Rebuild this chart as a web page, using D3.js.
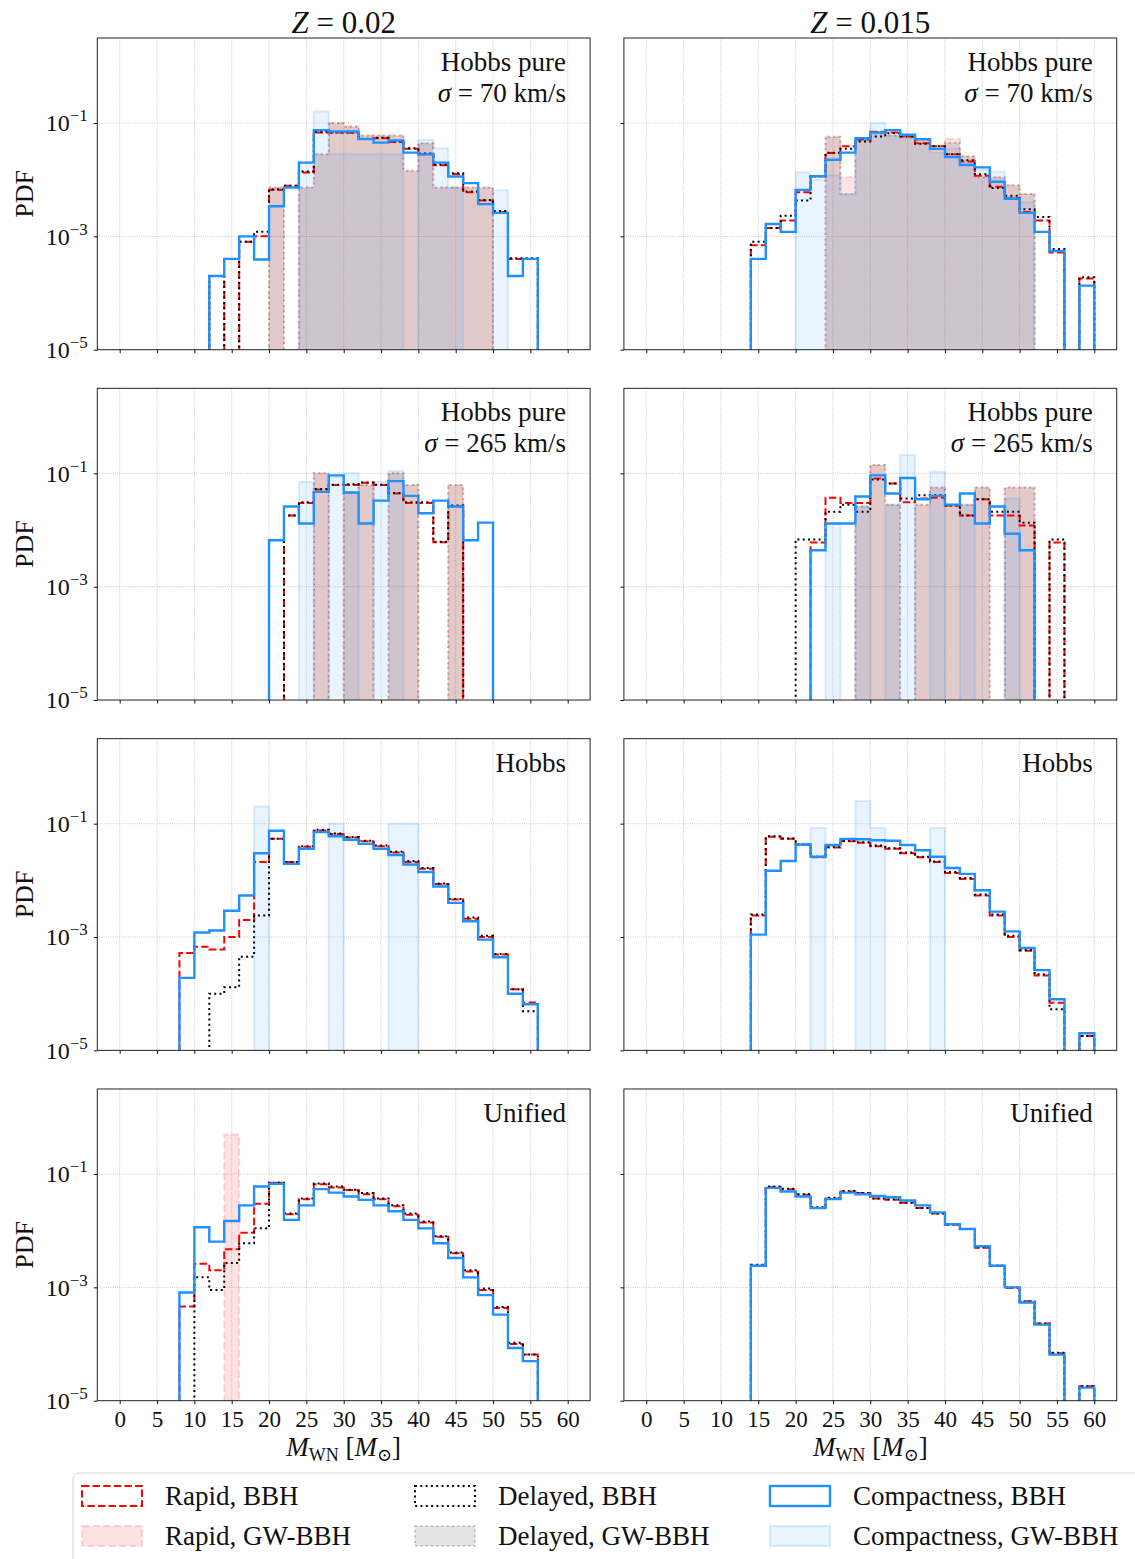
<!DOCTYPE html>
<html>
<head>
<meta charset="utf-8">
<script src="https://cdn.jsdelivr.net/npm/d3@7"></script>
<style>
  body { margin: 0; background: #fff; }
  svg text { font-family: 'Liberation Serif', 'DejaVu Serif', serif; fill: #111; }
</style>
</head>
<body>
<svg id="chart" width="1135" height="1559"></svg>
<script>
// Left edges of the 2 Msun wide bins (MWN)
const binStarts = [8, 10, 12, 14, 16, 18, 20, 22, 24, 26, 28, 30, 32, 34, 36, 38, 40, 42, 44, 46, 48, 50, 52, 54, 56, 58];
const binWidth = 2;

const xTicks = [0, 5, 10, 15, 20, 25, 30, 35, 40, 45, 50, 55, 60];
const yTicks = [1e-5, 1e-3, 1e-1];
const metallicities = ['0.02', '0.015'];
const modelNames = ['Hobbs pure', 'Hobbs pure', 'Hobbs', 'Unified'];
const sigmaLabels = ['70 km/s', '265 km/s', null, null];

// ---- Z = 0.02, Hobbs pure, sigma = 70
const rapidA    = [0, 0, 2e-4, 0, 8e-4, 1e-3, 6.6e-3, 7.8e-3, 0.0134, 0.068, 0.068, 0.067, 0.052, 0.054, 0.046, 0.035, 0.028, 0.018, 0.0126, 0.006, 0.0043, 0.0027, 4e-4, 4e-4, 0, 0];
const delayedA  = [0, 0, 2e-4, 0, 8e-4, 1.2e-3, 6.8e-3, 7.8e-3, 0.014, 0.07, 0.068, 0.068, 0.053, 0.055, 0.047, 0.036, 0.029, 0.0185, 0.013, 0.0062, 0.0044, 0.0028, 4.1e-4, 4.1e-4, 0, 0];
const compactA  = [0, 0, 2e-4, 4e-4, 1e-3, 3.9e-4, 3.4e-3, 7.3e-3, 0.020, 0.075, 0.071, 0.071, 0.052, 0.045, 0.049, 0.030, 0.028, 0.020, 0.0114, 0.0087, 0.0037, 0.0026, 2e-4, 4e-4, 0, 0];
const rapidGWA   = [0, 0, 0, 0, 0, 0, 0.0073, 0, 0.0073, 0.028, 0.1, 0.087, 0.06, 0.06, 0.06, 0.0144, 0.044, 0.0073, 0.0073, 0.0073, 0.0073, 0, 0, 0, 0, 0];
const delayedGWA = [0, 0, 0, 0, 0, 0, 0.0073, 0, 0.0073, 0.028, 0.1, 0.087, 0.06, 0.06, 0.06, 0.0144, 0.044, 0.0073, 0.0073, 0.0073, 0.0073, 0, 0, 0, 0, 0];
const compactGWA = [0, 0, 0, 0, 0, 0, 0, 0, 0.02, 0.16, 0.028, 0.028, 0.028, 0.028, 0.028, 0, 0.05, 0.036, 0.0073, 0, 0, 0.0065, 0, 0, 0, 0];

// ---- Z = 0.015, Hobbs pure, sigma = 70
const rapidB    = [0, 0, 0, 7e-4, 1.4e-3, 1.9e-3, 6e-3, 0.0115, 0.0295, 0.039, 0.051, 0.070, 0.068, 0.058, 0.044, 0.039, 0.028, 0.021, 0.0117, 0.0075, 0.0047, 0.0027, 1.9e-3, 5.2e-4, 0, 1.8e-4];
const delayedB  = [0, 0, 0, 8e-4, 1.4e-3, 2.3e-3, 4.3e-3, 0.0115, 0.03, 0.035, 0.047, 0.058, 0.066, 0.058, 0.043, 0.039, 0.028, 0.022, 0.0125, 0.0071, 0.0052, 0.003, 2.2e-3, 6e-4, 0, 1.9e-4];
const compactB  = [0, 0, 0, 4e-4, 1.65e-3, 1.2e-3, 6.6e-3, 0.0115, 0.0225, 0.030, 0.054, 0.068, 0.075, 0.062, 0.052, 0.035, 0.025, 0.0182, 0.0165, 0.0092, 0.0046, 0.0026, 1.2e-3, 5.5e-4, 0, 1.35e-4];
const rapidGWB   = [0, 0, 0, 0, 0, 0, 0, 0, 0.057, 0.011, 0.05, 0.065, 0.06, 0.06, 0.05, 0.035, 0.052, 0.026, 0.011, 0.011, 0.008, 0.0056, 0, 0, 0, 0];
const delayedGWB = [0, 0, 0, 0, 0, 0, 0, 0, 0.057, 0.0056, 0.05, 0.065, 0.06, 0.06, 0.05, 0.035, 0.045, 0.026, 0.011, 0.011, 0.008, 0.0056, 0, 0, 0, 0];
const compactGWB = [0, 0, 0, 0, 0, 0, 0.0135, 0.01, 0.012, 0.0056, 0.05, 0.1, 0.06, 0.055, 0.045, 0.03, 0.035, 0.02, 0.015, 0.0138, 0.005, 0.004, 0, 0, 0, 0];

// ---- Z = 0.02, Hobbs pure, sigma = 265
const rapidC    = [0, 0, 0, 0, 0, 0, 0, 0.018, 0.030, 0.052, 0.062, 0.062, 0.068, 0.062, 0.044, 0.030, 0.030, 6.1e-3, 0.026, 0, 0, 0, 0, 0, 0, 0];
const delayedC  = [0, 0, 0, 0, 0, 0, 0, 0.018, 0.031, 0.053, 0.063, 0.064, 0.069, 0.063, 0.045, 0.031, 0.031, 6.2e-3, 0.027, 0, 0, 0, 0, 0, 0, 0];
const compactC  = [0, 0, 0, 0, 0, 0, 6.6e-3, 0.026, 0.013, 0.047, 0.092, 0.046, 0.013, 0.033, 0.073, 0.04, 0.0197, 0.033, 0.026, 6.6e-3, 0.0135, 0, 0, 0, 0, 0];
const rapidGWC   = [0, 0, 0, 0, 0, 0, 0, 0, 0, 0.1, 0, 0.046, 0.062, 0, 0.1, 0.062, 0, 0, 0.062, 0, 0, 0, 0, 0, 0, 0];
const delayedGWC = [0, 0, 0, 0, 0, 0, 0, 0, 0, 0.1, 0, 0.046, 0.062, 0, 0.1, 0.062, 0, 0, 0.062, 0, 0, 0, 0, 0, 0, 0];
const compactGWC = [0, 0, 0, 0, 0, 0, 0, 0, 0.07, 0, 0.085, 0.1, 0, 0.07, 0.11, 0, 0, 0, 0, 0, 0, 0, 0, 0, 0, 0];

// ---- Z = 0.015, Hobbs pure, sigma = 265
const rapidD    = [0, 0, 0, 0, 0, 0, 0, 6e-3, 0.037, 0.030, 0.030, 0.081, 0.066, 0.031, 0.036, 0.037, 0.027, 0.018, 0.035, 0.018, 0.018, 0.012, 0, 6e-3, 0, 0];
const delayedD  = [0, 0, 0, 0, 0, 0, 6.8e-3, 6.8e-3, 0.021, 0.028, 0.021, 0.078, 0.066, 0.036, 0.041, 0.041, 0.027, 0.018, 0.035, 0.021, 0.021, 0.0135, 0, 6.8e-3, 0, 0];
const compactD  = [0, 0, 0, 0, 0, 0, 0, 4.4e-3, 0.013, 0.013, 0.039, 0.092, 0.044, 0.083, 0.035, 0.040, 0.028, 0.044, 0.013, 0.026, 8.6e-3, 4.4e-3, 0, 0, 0, 0];
const rapidGWD   = [0, 0, 0, 0, 0, 0, 0, 0, 0, 0, 0.026, 0.14, 0.028, 0, 0.028, 0.056, 0.028, 0.028, 0.056, 0, 0.056, 0.056, 0, 0, 0, 0];
const delayedGWD = [0, 0, 0, 0, 0, 0, 0, 0, 0, 0, 0.026, 0.14, 0.028, 0, 0.028, 0.056, 0.028, 0.028, 0.056, 0, 0.056, 0.056, 0, 0, 0, 0];
const compactGWD = [0, 0, 0, 0, 0, 0, 0, 0, 0.013, 0, 0.026, 0, 0.028, 0.21, 0, 0.107, 0, 0.028, 0, 0, 0.036, 0, 0, 0, 0, 0];

// ---- Z = 0.02, Hobbs
const rapidE    = [5.2e-4, 6.7e-4, 6e-4, 1e-3, 2e-3, 0.021, 0.054, 0.021, 0.039, 0.076, 0.066, 0.057, 0.049, 0.040, 0.031, 0.021, 0.016, 8.6e-3, 4.6e-3, 2.1e-3, 1e-3, 4.9e-4, 1.2e-4, 7e-5, 0, 0];
const delayedE  = [0, 0, 1e-4, 1.3e-4, 4.5e-4, 2.4e-3, 0.054, 0.021, 0.040, 0.078, 0.067, 0.058, 0.050, 0.041, 0.032, 0.022, 0.0165, 8.8e-3, 4.7e-3, 2.2e-3, 1.05e-3, 5e-4, 1.2e-4, 4.9e-5, 0, 0];
const compactE  = [1.9e-4, 1.2e-3, 1.3e-3, 2.9e-3, 5.4e-3, 0.030, 0.075, 0.0195, 0.036, 0.071, 0.060, 0.052, 0.044, 0.036, 0.028, 0.019, 0.014, 7.8e-3, 4e-3, 1.9e-3, 9e-4, 4.4e-4, 1e-4, 6.5e-5, 0, 0];
const compactGWE = [0, 0, 0, 0, 0, 0.2, 0, 0, 0, 0, 0.1, 0, 0, 0, 0.1, 0.1, 0, 0, 0, 0, 0, 0, 0, 0, 0, 0];

// ---- Z = 0.015, Hobbs
const rapidF    = [0, 0, 0, 2.4e-3, 0.059, 0.054, 0.043, 0.0255, 0.038, 0.049, 0.046, 0.040, 0.036, 0.030, 0.0255, 0.021, 0.0135, 0.0106, 5.4e-3, 2.4e-3, 1e-3, 5.7e-4, 2.1e-4, 6.9e-5, 0, 1.8e-5];
const delayedF  = [0, 0, 0, 2.5e-3, 0.06, 0.055, 0.043, 0.026, 0.039, 0.05, 0.047, 0.041, 0.037, 0.031, 0.026, 0.0215, 0.014, 0.011, 5.6e-3, 2.5e-3, 1.05e-3, 5.9e-4, 2.2e-4, 5.3e-5, 0, 1.8e-5];
const compactF  = [0, 0, 0, 1.1e-3, 0.0148, 0.022, 0.043, 0.026, 0.042, 0.054, 0.053, 0.051, 0.050, 0.042, 0.034, 0.026, 0.0165, 0.013, 6.7e-3, 2.8e-3, 1.26e-3, 6.4e-4, 2.6e-4, 8e-5, 0, 2e-5];
const compactGWF = [0, 0, 0, 0, 0, 0, 0, 0.084, 0, 0, 0.25, 0.084, 0, 0, 0, 0.084, 0, 0, 0, 0, 0, 0, 0, 0, 0, 0];

// ---- Z = 0.02, Unified
const rapidG    = [4.6e-4, 2.6e-3, 2e-3, 4.7e-3, 9.2e-3, 0.030, 0.070, 0.0195, 0.036, 0.066, 0.058, 0.052, 0.044, 0.036, 0.027, 0.019, 0.014, 7.8e-3, 4e-3, 1.9e-3, 9e-4, 4.3e-4, 1e-4, 6.5e-5, 0, 0];
const delayedG  = [0, 1.5e-3, 9e-4, 2.7e-3, 6e-3, 0.011, 0.070, 0.020, 0.037, 0.068, 0.06, 0.053, 0.046, 0.037, 0.028, 0.02, 0.0145, 8e-3, 4.1e-3, 2e-3, 9.5e-4, 4.5e-4, 1.05e-4, 6.5e-5, 0, 0];
const compactG  = [8.1e-4, 0.0115, 6.4e-3, 0.0148, 0.028, 0.060, 0.067, 0.0155, 0.028, 0.054, 0.047, 0.040, 0.035, 0.028, 0.022, 0.0155, 0.011, 6e-3, 3.3e-3, 1.5e-3, 7.3e-4, 3.3e-4, 8.5e-5, 5e-5, 0, 0];
const rapidGWG  = [0, 0, 0, 0.5, 0, 0, 0, 0, 0, 0, 0, 0, 0, 0, 0, 0, 0, 0, 0, 0, 0, 0, 0, 0, 0, 0];

// ---- Z = 0.015, Unified
const rapidH    = [0, 0, 0, 2.4e-3, 0.059, 0.054, 0.043, 0.0255, 0.037, 0.049, 0.046, 0.037, 0.035, 0.031, 0.025, 0.020, 0.0127, 0.0107, 5e-3, 2.4e-3, 9.7e-4, 5.7e-4, 2.3e-4, 6.9e-5, 0, 1.8e-5];
const delayedH  = [0, 0, 0, 2.5e-3, 0.06, 0.055, 0.044, 0.026, 0.038, 0.05, 0.046, 0.037, 0.036, 0.031, 0.025, 0.02, 0.0128, 0.0107, 5.1e-3, 2.4e-3, 1e-3, 5.6e-4, 2.3e-4, 7e-5, 0, 1.8e-5];
const compactH  = [0, 0, 0, 2.4e-3, 0.057, 0.049, 0.040, 0.025, 0.036, 0.047, 0.044, 0.041, 0.039, 0.034, 0.028, 0.021, 0.013, 0.0107, 5.3e-3, 2.4e-3, 1e-3, 5.4e-4, 2.2e-4, 6.5e-5, 0, 1.7e-5];

const panels = [
  { row: 0, col: 0, lines: [rapidA, delayedA, compactA], fills: [rapidGWA, delayedGWA, compactGWA] },
  { row: 0, col: 1, lines: [rapidB, delayedB, compactB], fills: [rapidGWB, delayedGWB, compactGWB] },
  { row: 1, col: 0, lines: [rapidC, delayedC, compactC], fills: [rapidGWC, delayedGWC, compactGWC] },
  { row: 1, col: 1, lines: [rapidD, delayedD, compactD], fills: [rapidGWD, delayedGWD, compactGWD] },
  { row: 2, col: 0, lines: [rapidE, delayedE, compactE], fills: [null, null, compactGWE] },
  { row: 2, col: 1, lines: [rapidF, delayedF, compactF], fills: [null, null, compactGWF] },
  { row: 3, col: 0, lines: [rapidG, delayedG, compactG], fills: [rapidGWG, null, null] },
  { row: 3, col: 1, lines: [rapidH, delayedH, compactH], fills: [null, null, null] }
];

// styles: rapid, delayed, compactness
const lineStyles = [
  { stroke: '#ff0000', width: 2, dash: '7.4,3.2' },
  { stroke: '#000000', width: 2, dash: '2,3.3' },
  { stroke: '#1e90ff', width: 2.4, dash: null }
];
const fillStyles = [
  { fill: '#ff0000', fillOp: 0.11, stroke: '#ff0000', strokeOp: 0.15, dash: '7.4,3.2' },
  { fill: '#000000', fillOp: 0.11, stroke: '#000000', strokeOp: 0.2, dash: '2,3.3' },
  { fill: '#1e90ff', fillOp: 0.1, stroke: '#1e90ff', strokeOp: 0.15, dash: null }
];

const svg = d3.select('#chart');
const serif = "'Liberation Serif', 'DejaVu Serif', serif";

const colRange = [[97.3, 590.1], [623.9, 1116.7]];
const rowTop = r => 38 + r * 350.33;
const panelH = 311.7;

// outline of a step histogram, from the baseline back to the baseline
function stepPoints(vals) {
  const idx = vals.map((v, i) => v > 0 ? i : -1).filter(i => i >= 0);
  if (!idx.length) return null;
  const first = idx[0], last = idx[idx.length - 1];
  const pts = [[binStarts[first], 0]];
  for (let i = first; i <= last; i++) {
    pts.push([binStarts[i], vals[i]], [binStarts[i] + binWidth, vals[i]]);
  }
  pts.push([binStarts[last] + binWidth, 0]);
  return pts;
}

const defs = svg.append('defs');

panels.forEach((p, k) => {
  const [x0, x1] = colRange[p.col];
  const top = rowTop(p.row);
  const bottom = top + panelH;

  const x = d3.scaleLinear().domain([-3, 63]).range([x0, x1]);
  const y = d3.scaleLog().domain([1e-5, Math.pow(10, 0.5)]).range([bottom, top]);

  const line = d3.line()
    .x(d => x(d[0]))
    .y(d => d[1] > 0 ? y(d[1]) : bottom + 2);

  defs.append('clipPath').attr('id', 'clip' + k)
    .append('rect').attr('x', x0).attr('y', top).attr('width', x1 - x0).attr('height', panelH);

  const g = svg.append('g');

  // dotted grid
  g.append('g').selectAll('line').data(xTicks).join('line')
    .attr('x1', d => x(d)).attr('x2', d => x(d))
    .attr('y1', top).attr('y2', bottom)
    .attr('stroke', '#b0b0b0').attr('stroke-width', 0.8).attr('stroke-dasharray', '0.8,1.4');
  g.append('g').selectAll('line').data(yTicks.slice(1)).join('line')
    .attr('x1', x0).attr('x2', x1)
    .attr('y1', d => y(d)).attr('y2', d => y(d))
    .attr('stroke', '#b0b0b0').attr('stroke-width', 0.8).attr('stroke-dasharray', '0.8,1.4');

  const plot = g.append('g').attr('clip-path', `url(#clip${k})`);

  // GW-BBH filled histograms
  p.fills.forEach((vals, s) => {
    if (!vals) return;
    const pts = stepPoints(vals);
    if (!pts) return;
    const st = fillStyles[s];
    plot.append('path')
      .attr('d', line(pts) + 'Z')
      .attr('fill', st.fill).attr('fill-opacity', st.fillOp)
      .attr('stroke', st.stroke).attr('stroke-opacity', st.strokeOp)
      .attr('stroke-width', 2)
      .attr('stroke-dasharray', st.dash);
  });

  // BBH step outlines
  p.lines.forEach((vals, s) => {
    const pts = stepPoints(vals);
    if (!pts) return;
    const st = lineStyles[s];
    plot.append('path')
      .attr('d', line(pts))
      .attr('fill', 'none')
      .attr('stroke', st.stroke)
      .attr('stroke-width', st.width)
      .attr('stroke-dasharray', st.dash)
      .attr('stroke-linejoin', 'miter');
  });

  // frame
  g.append('rect')
    .attr('x', x0).attr('y', top).attr('width', x1 - x0).attr('height', panelH)
    .attr('fill', 'none').attr('stroke', '#222').attr('stroke-width', 1);

  // x axis
  const xAxis = d3.axisBottom(x).tickValues(xTicks).tickSize(3.5).tickPadding(6);
  if (p.row < 3) xAxis.tickFormat('');
  const xg = g.append('g').attr('transform', `translate(0,${bottom})`).call(xAxis);
  xg.select('.domain').remove();
  xg.attr('font-family', serif).attr('font-size', 23).attr('color', '#111');

  // y axis
  const yg = g.append('g').attr('transform', `translate(${x0},0)`)
    .call(d3.axisLeft(y).tickValues(yTicks).tickSize(3.5).tickPadding(6).tickFormat(''));
  yg.select('.domain').remove();
  yg.attr('font-family', serif).attr('font-size', 24).attr('color', '#111');
  if (p.col === 0) {
    yg.selectAll('.tick text').each(function(d) {
      const t = d3.select(this);
      t.append('tspan').text('10');
      t.append('tspan').attr('dy', -10).attr('font-size', 17).text('\u2212' + Math.round(-Math.log10(d)));
    });
    g.append('text')
      .attr('transform', `translate(33,${top + panelH / 2}) rotate(-90)`)
      .attr('text-anchor', 'middle').attr('font-size', 26)
      .text('PDF');
  }

  // model annotation
  const ann = g.append('g').attr('font-size', 27).attr('text-anchor', 'end');
  ann.append('text').attr('x', x1 - 24).attr('y', top + 33).text(modelNames[p.row]);
  if (sigmaLabels[p.row]) {
    const t = ann.append('text').attr('x', x1 - 24).attr('y', top + 64);
    t.append('tspan').attr('font-style', 'italic').text('\u03c3');
    t.append('tspan').text(' = ' + sigmaLabels[p.row]);
  }

  // column title
  if (p.row === 0) {
    const t = g.append('text').attr('x', (x0 + x1) / 2).attr('y', 33)
      .attr('text-anchor', 'middle').attr('font-size', 31);
    t.append('tspan').attr('font-style', 'italic').text('Z');
    t.append('tspan').text(' = ' + metallicities[p.col]);
  }

  // x label
  if (p.row === 3) {
    const t = g.append('text').attr('x', (x0 + x1) / 2).attr('y', 1456)
      .attr('text-anchor', 'middle').attr('font-size', 27);
    t.append('tspan').attr('font-style', 'italic').text('M');
    t.append('tspan').attr('font-size', 18).attr('dy', 5).text('WN');
    t.append('tspan').attr('dy', -5).text(' [');
    t.append('tspan').attr('font-style', 'italic').text('M');
    t.append('tspan').attr('font-size', 18).attr('dy', 5).text('\u2299');
    t.append('tspan').attr('dy', -5).text(']');
  }
});

// legend
const legendNames = [
  ['Rapid, BBH', 'Rapid, GW-BBH'],
  ['Delayed, BBH', 'Delayed, GW-BBH'],
  ['Compactness, BBH', 'Compactness, GW-BBH']
];
const legCols = [82, 415, 770];
const legRows = [1496, 1536];

const leg = svg.append('g');
leg.append('rect')
  .attr('x', 73).attr('y', 1473).attr('width', 1080).attr('height', 110).attr('rx', 6)
  .attr('fill', '#fff').attr('stroke', '#d6d6d6').attr('stroke-width', 1);

legendNames.forEach((names, s) => {
  const cx = legCols[s];
  const ls = lineStyles[s];
  const fs = fillStyles[s];
  // BBH line patch
  leg.append('rect')
    .attr('x', cx).attr('y', legRows[0] - 10).attr('width', 60).attr('height', 20)
    .attr('fill', 'none').attr('stroke', ls.stroke).attr('stroke-width', ls.width)
    .attr('stroke-dasharray', ls.dash);
  // GW-BBH filled patch
  leg.append('rect')
    .attr('x', cx).attr('y', legRows[1] - 10).attr('width', 60).attr('height', 20)
    .attr('fill', fs.fill).attr('fill-opacity', fs.fillOp)
    .attr('stroke', fs.stroke).attr('stroke-opacity', fs.strokeOp).attr('stroke-width', 2)
    .attr('stroke-dasharray', fs.dash);
  names.forEach((n, r) => {
    leg.append('text')
      .attr('x', cx + 83).attr('y', legRows[r] + 9)
      .attr('font-size', 27)
      .text(n);
  });
});
</script>
</body>
</html>
